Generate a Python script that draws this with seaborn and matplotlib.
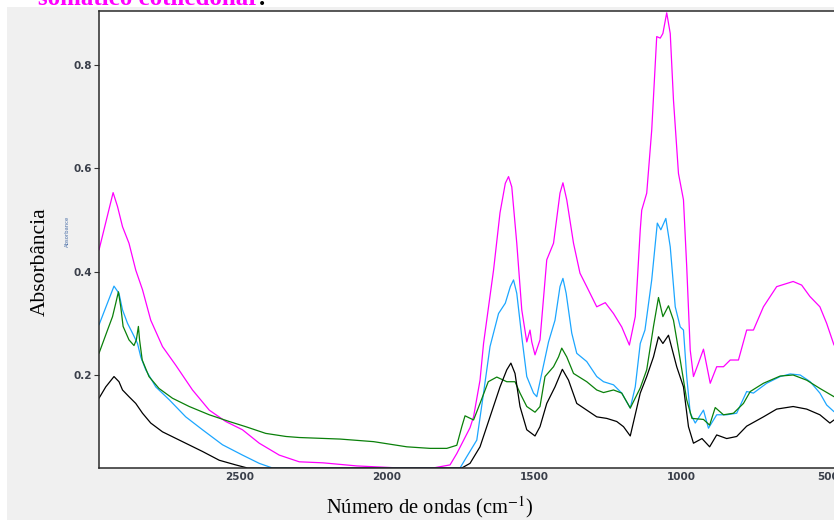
import matplotlib
matplotlib.use("Agg")
import matplotlib.pyplot as plt
from matplotlib.patches import Rectangle
import seaborn as sns
import pandas as pd

# ---- data ----
magenta_wn = [2980, 2932, 2917, 2900, 2878, 2855, 2832, 2804, 2764, 2719, 2662, 2605, 2549, 2492, 2435, 2367,
              2299, 2218, 2103, 1956, 1844, 1786, 1763, 1718, 1706, 1684, 1672, 1638, 1616, 1598, 1587, 1576,
              1559, 1542, 1525, 1514, 1508, 1497, 1480, 1457, 1434, 1412, 1402, 1389, 1366, 1344, 1321, 1287,
              1258, 1230, 1202, 1176, 1156, 1139, 1134, 1117, 1100, 1083, 1071, 1062, 1049, 1037, 1026, 1009,
              992, 981, 969, 958, 941, 924, 901, 879, 856, 833, 805, 777, 754, 720, 675, 619, 590, 562, 528,
              505, 480]
magenta_ab = [0.442, 0.553, 0.526, 0.487, 0.455, 0.403, 0.365, 0.306, 0.255, 0.219, 0.171, 0.132, 0.110, 0.094,
              0.068, 0.045, 0.032, 0.030, 0.024, 0.020, 0.020, 0.026, 0.048, 0.098, 0.119, 0.190, 0.261, 0.403,
              0.514, 0.571, 0.584, 0.564, 0.455, 0.326, 0.264, 0.287, 0.264, 0.239, 0.268, 0.423, 0.455, 0.552,
              0.572, 0.539, 0.455, 0.397, 0.371, 0.332, 0.340, 0.319, 0.293, 0.258, 0.313, 0.481, 0.519, 0.552,
              0.674, 0.855, 0.852, 0.861, 0.901, 0.861, 0.732, 0.590, 0.539, 0.410, 0.248, 0.197, 0.223, 0.250,
              0.184, 0.216, 0.216, 0.229, 0.229, 0.287, 0.287, 0.332, 0.371, 0.381, 0.374, 0.352, 0.332, 0.300,
              0.258]

blue_wn = [2980, 2929, 2912, 2900, 2883, 2866, 2849, 2838, 2821, 2787, 2741, 2685, 2628, 2560, 2492, 2435, 2390,
           2200, 2000, 1800, 1752, 1729, 1695, 1672, 1650, 1621, 1598, 1581, 1570, 1559, 1542, 1525, 1502, 1491,
           1474, 1451, 1429, 1412, 1402, 1391, 1372, 1355, 1321, 1287, 1264, 1230, 1202, 1173, 1156, 1139, 1123,
           1100, 1081, 1069, 1052, 1037, 1020, 1003, 992, 981, 969, 952, 924, 907, 879, 845, 811, 777, 754, 709,
           663, 629, 595, 561, 528, 505, 480]
blue_ab = [0.297, 0.372, 0.358, 0.326, 0.300, 0.281, 0.261, 0.235, 0.210, 0.177, 0.152, 0.119, 0.094, 0.065, 0.045,
           0.029, 0.020, 0.020, 0.020, 0.020, 0.020, 0.042, 0.074, 0.165, 0.255, 0.319, 0.339, 0.371, 0.384, 0.358,
           0.274, 0.197, 0.165, 0.158, 0.203, 0.264, 0.306, 0.371, 0.387, 0.358, 0.281, 0.242, 0.226, 0.197, 0.187,
           0.181, 0.165, 0.136, 0.177, 0.261, 0.287, 0.384, 0.494, 0.481, 0.503, 0.448, 0.332, 0.293, 0.287, 0.197,
           0.126, 0.107, 0.132, 0.097, 0.123, 0.123, 0.126, 0.168, 0.165, 0.184, 0.197, 0.202, 0.200, 0.187, 0.165,
           0.142, 0.129]

green_wn = [2980, 2951, 2934, 2923, 2914, 2906, 2898, 2878, 2861, 2853, 2846, 2842, 2833, 2810, 2776, 2730, 2673,
            2605, 2537, 2481, 2413, 2344, 2299, 2160, 2046, 1933, 1854, 1797, 1763, 1746, 1735, 1706, 1684, 1656,
            1627, 1593, 1565, 1548, 1525, 1497, 1480, 1463, 1434, 1417, 1406, 1389, 1366, 1321, 1287, 1264, 1230,
            1202, 1173, 1139, 1117, 1094, 1077, 1062, 1043, 1026, 1003, 981, 963, 924, 903, 884, 856, 822, 788,
            765, 720, 663, 619, 573, 528, 480]
green_ab = [0.242, 0.287, 0.313, 0.339, 0.361, 0.332, 0.294, 0.268, 0.257, 0.268, 0.294, 0.268, 0.229, 0.197,
            0.174, 0.155, 0.139, 0.123, 0.110, 0.100, 0.087, 0.081, 0.079, 0.076, 0.071, 0.061, 0.058, 0.058, 0.064,
            0.100, 0.121, 0.113, 0.145, 0.187, 0.196, 0.187, 0.187, 0.165, 0.139, 0.128, 0.139, 0.197, 0.216, 0.235,
            0.252, 0.235, 0.203, 0.187, 0.171, 0.166, 0.171, 0.165, 0.136, 0.175, 0.210, 0.294, 0.350, 0.313, 0.334,
            0.306, 0.229, 0.152, 0.116, 0.114, 0.103, 0.137, 0.123, 0.126, 0.145, 0.168, 0.184, 0.198, 0.200, 0.190,
            0.174, 0.158]

black_wn = [2980, 2957, 2929, 2912, 2900, 2878, 2855, 2832, 2804, 2764, 2696, 2628, 2571, 2515, 2475, 2200, 2000,
            1800, 1746, 1718, 1684, 1650, 1616, 1593, 1579, 1565, 1548, 1525, 1497, 1480, 1457, 1429, 1404, 1383,
            1355, 1321, 1287, 1253, 1219, 1196, 1173, 1139, 1117, 1094, 1077, 1062, 1043, 1015, 992, 975, 958, 929,
            903, 879, 845, 811, 777, 720, 675, 619, 573, 528, 494, 480]
black_ab = [0.155, 0.177, 0.197, 0.187, 0.171, 0.158, 0.145, 0.126, 0.107, 0.090, 0.071, 0.052, 0.035, 0.026, 0.020,
            0.020, 0.020, 0.020, 0.020, 0.029, 0.061, 0.119, 0.177, 0.210, 0.223, 0.203, 0.139, 0.094, 0.082, 0.100,
            0.145, 0.177, 0.211, 0.190, 0.145, 0.132, 0.119, 0.116, 0.110, 0.100, 0.082, 0.165, 0.197, 0.235, 0.274,
            0.261, 0.277, 0.216, 0.177, 0.100, 0.068, 0.077, 0.061, 0.084, 0.077, 0.081, 0.101, 0.119, 0.134, 0.139,
            0.134, 0.123, 0.107, 0.113]

y_ticks = [0.2, 0.4, 0.6, 0.8]
x_ticks = [2500, 2000, 1500, 1000, 500]
ylabel = "Absorbância"
xlabel = "Número de ondas (cm$^{-1}$)"
title_frag = "somático cotiledonar"

series = [
    ("magenta", magenta_wn, magenta_ab, "#ff00ff"),
    ("blue", blue_wn, blue_ab, "#1ca6ff"),
    ("green", green_wn, green_ab, "#0a800a"),
    ("black", black_wn, black_ab, "#000000"),
]

# ---- figure ----
sns.set_style("white")
plt.rcParams["font.family"] = ["DejaVu Sans"]
plt.rcParams["mathtext.fontset"] = "stix"

fig = plt.figure(figsize=(8.34, 5.2), dpi=100)
fig.patch.set_facecolor("white")
fig.patches.append(Rectangle((7 / 834, 0), 1, 513 / 520, transform=fig.transFigure,
                             facecolor="#f0f0f0", edgecolor="none", zorder=-5))

ax = fig.add_axes([99 / 834, 1 - 468 / 520, 1 - 99 / 834, (468 - 11) / 520])
ax.set_zorder(1)
ax.set_facecolor("white")

for name, wn, ab, col in series:
    df = pd.DataFrame({"wn": wn, "ab": ab})
    sns.lineplot(data=df, x="wn", y="ab", ax=ax, color=col, linewidth=0.9,
                 estimator=None, sort=False, legend=False)

ax.set_xlim(2980, 480)
ax.set_ylim(0.02, 0.9045)
ax.set_xticks(x_ticks)
ax.set_yticks(y_ticks)
ax.set_xticklabels([str(t) for t in x_ticks])
ax.set_yticklabels([f"{t:.1f}" for t in y_ticks])
ax.set_xlabel("")
ax.set_ylabel("")
ax.tick_params(axis="y", length=3.5, width=0.8, color="#333333", labelsize=7.5,
               labelcolor="#3a3f4a", pad=1.5, left=True)
ax.tick_params(axis="x", length=0, labelsize=7.5, labelcolor="#3a3f4a", pad=3)
for lbl in ax.get_xticklabels() + ax.get_yticklabels():
    lbl.set_fontweight("bold")

for s in ["left", "top", "bottom"]:
    ax.spines[s].set_visible(True)
    ax.spines[s].set_color("#2a2a2a")
    ax.spines[s].set_linewidth(1.1)
ax.spines["right"].set_visible(False)

fig.text(40 / 834, 1 - 262 / 520, ylabel, rotation=90, ha="center", va="center",
         fontsize=15.5, family="Liberation Serif", color="black")
fig.text(67 / 834, 1 - 231 / 520, "Absorbance", rotation=90, ha="center", va="center",
         fontsize=3.8, color="#4a6fa8")
fig.text(430 / 834, 1 - 507 / 520, xlabel, ha="center", va="center",
         fontsize=14.8, family="Liberation Serif", color="black")

t = fig.text(38 / 834, 1 - 5 / 520, title_frag, ha="left", va="baseline",
             fontsize=18, fontweight="bold", family="Liberation Serif", color="#ff00ff")
fig.canvas.draw()
bb = t.get_window_extent()
fig.text(bb.x1 / fig.bbox.width, 1 - 5 / 520, ".", ha="left", va="baseline",
         fontsize=18, fontweight="bold", family="Liberation Serif", color="black")

fig.savefig("out.png", dpi=100)
